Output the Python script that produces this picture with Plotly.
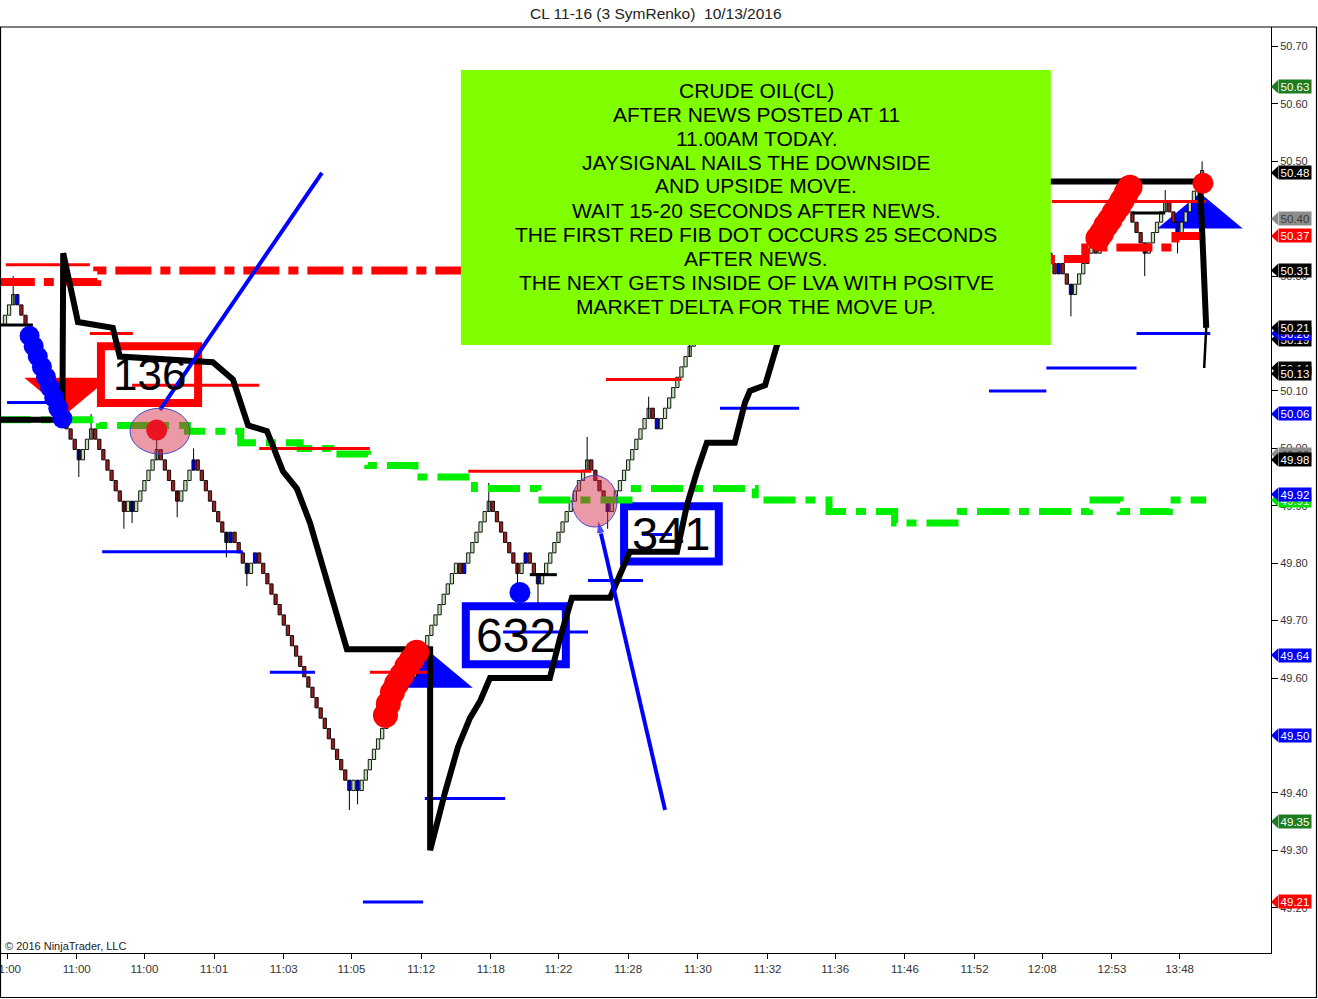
import plotly.graph_objects as go

# ---------------- data ----------------
TITLE = "CL 11-16 (3 SymRenko)\u00a0 10/13/2016"
BRICK = 0.018
START_CLOSE = 50.232
# renko bricks per run (+ up, - down), read left to right
RUNS = [2, -16, 3, -8, 1, -1, 6, -5, 4, -8, 1, -4, 2, -23, 1, -1, 12, -1, 1, 10, -1, 1, 6,
        -7, 2, -3, 12, -5, 10, -2, 8, 14, -3, 15, -16, 9, -14, 2, -2, 8, -4,
        -2, 1, -3, 5, -1, 6, -6, 5, -3, 6]
WICK_HIGH = {2: 50.30, 21: 50.06, 37: 50.03, 46: 50.00, 98: 49.65, 118: 49.94, 142: 50.02,
             157: 50.09, 167: 50.20, 272: 50.47, 283: 50.45, 292: 50.50}
WICK_LOW = {18: 49.95, 29: 49.86, 31: 49.87, 42: 49.88, 54: 49.81, 59: 49.76, 84: 49.37,
            86: 49.38, 125: 49.75, 130: 49.73, 147: 49.86, 260: 50.23, 278: 50.30, 286: 50.34}
BLUE_BARS = [3, 18, 31, 46, 54, 55, 59, 61, 84, 86, 99, 112, 127, 130, 147, 159, 257, 260, 278, 286]

TICK_BARS = [0.5, 17.5, 34, 51, 68, 84.5, 101.5, 118.5, 135, 152, 169, 186, 202.5, 219.5,
             236.5, 253, 270, 286.5]
TICK_LABELS = ["11:00", "11:00", "11:00", "11:01", "11:03", "11:05", "11:12", "11:18", "11:22",
               "11:28", "11:30", "11:32", "11:36", "11:46", "11:52", "12:08", "12:53", "13:48"]
Y_TICKS = [49.20, 49.30, 49.40, 49.50, 49.60, 49.70, 49.80, 49.90, 50.00, 50.10, 50.20,
           50.30, 50.40, 50.50, 50.60, 50.70]

BLACK_X = [-1.5, 14, 14.2, 17.8, 26.3, 28, 50.7, 55.6, 59.3, 63.9, 67.8, 71.2, 74.4, 77.3, 79.8,
           81.7, 83.4, 103.7, 103.7, 107.3, 110.5, 113.4, 115.9, 118.3, 132.9, 135.4, 138.3,
           147.6, 150, 152.4, 163.9, 166.3, 168.8, 171.2, 178, 180.5, 181.7, 185.4, 188.3, 200,
           215, 235, 254, 291.5, 293]
BLACK_Y = [50.05, 50.05, 50.34, 50.22, 50.21, 50.16, 50.15, 50.12, 50.04, 50.03, 49.96, 49.93,
           49.87, 49.80, 49.74, 49.69, 49.65, 49.65, 49.30, 49.40, 49.48, 49.53, 49.56, 49.60,
           49.60, 49.67, 49.74, 49.74, 49.78, 49.82, 49.82, 49.90, 49.96, 50.01, 50.01, 50.08,
           50.10, 50.11, 50.18, 50.30, 50.38, 50.45, 50.465, 50.465, 50.21]
BLACK_TAIL_X = [293, 292.5]
BLACK_TAIL_Y = [50.21, 50.14]

RED_DD_X = [-1.5, 22.5, 255, 263.5, 285.5, 293]
RED_DD_Y = [50.29, 50.31, 50.33, 50.35, 50.37, 50.37]
GREEN_DD_X = [-1.5, 23, 44.5, 57.5, 72, 79.5, 88.5, 100, 114.5, 130, 153.5, 183, 201, 217, 233,
              264.5, 272, 284, 293]
GREEN_DD_Y = [50.05, 50.04, 50.03, 50.01, 50.00, 49.99, 49.97, 49.95, 49.93, 49.91, 49.93, 49.91,
              49.89, 49.87, 49.89, 49.91, 49.89, 49.91, 49.91]

RED_SEG_X0 = [0.2, 20.7, 31, 62, 89, 113, 146.6, 255.3]
RED_SEG_X1 = [20.7, 31.2, 62, 89, 104, 143, 165, 293]
RED_SEG_Y = [50.32, 50.20, 50.11, 50.00, 49.61, 49.96, 50.12, 50.43]
BLUE_SEG_X0 = [0.5, 23.7, 64.6, 87.3, 102.4, 121.5, 142.2, 155.4, 174.4, 240, 254, 276]
BLUE_SEG_X1 = [11, 58, 75.6, 102, 122, 142.2, 155.6, 162.7, 193.7, 254, 276, 294]
BLUE_SEG_Y = [50.08, 49.82, 49.61, 49.21, 49.39, 49.68, 49.77, 49.85, 50.07, 50.10, 50.14, 50.20]
BLACK_SEG_X0 = [-1.5, 128, 275]
BLACK_SEG_X1 = [6.8, 134.6, 283]
BLACK_SEG_Y = [50.215, 49.78, 50.41]

TREND1_X = [37.8, 77.3]
TREND1_Y = [50.067, 50.48]
TREND2_X = [161, 144.6]
TREND2_Y = [49.37, 49.875]

BLUE_DOT_BARS = [6, 7, 8, 9, 10, 11, 12, 13, 14]
RED_DOT_X = [92.8, 93.5, 94.5, 95.5, 96.8, 98, 99.2, 100.4,
             266.6, 267.5, 268.5, 269.5, 270.5, 271.5, 272.5, 273.5, 274.4]
RED_DOT_Y = [49.535, 49.555, 49.575, 49.59, 49.605, 49.62, 49.632, 49.645,
             50.366, 50.375, 50.388, 50.398, 50.41, 50.42, 50.432, 50.445, 50.455]
SINGLE_RED_X = [37, 292.2]
SINGLE_RED_Y = [50.032, 50.462]
SINGLE_BLUE_X = [125.6]
SINGLE_BLUE_Y = [49.749]

SIG_BAR = [15.1, 103.7, 291.5]
SIG_PRICE = [50.061, 49.645, 50.445]
SIG_DIR = [-1, 1, 1]
SIG_COLOR = ["#ff0000", "#0000ff", "#0000ff"]

CIRCLES = [(30.5, 45.1, 49.99, 50.07), (138.3, 149.3, 49.863, 49.953)]

BOX_LABELS = ["136", "632", "341"]
BOX_X0 = [23.4, 112.4, 151]
BOX_X1 = [47.1, 136.8, 174.1]
BOX_Y0 = [50.079, 49.624, 49.803]
BOX_Y1 = [50.178, 49.725, 49.899]
BOX_COLORS = ["#ff0000", "#0000ff", "#0000ff"]
BOX_FONT = [44, 48, 47]

NOTE_BOX = (111.2, 255.1, 50.18, 50.659)
NOTE_LINES = ["CRUDE OIL(CL)", "AFTER NEWS POSTED AT 11", "11.00AM TODAY.",
              "JAYSIGNAL NAILS THE DOWNSIDE", "AND UPSIDE MOVE.",
              "WAIT 15-20 SECONDS AFTER NEWS.", "THE FIRST RED FIB DOT OCCURS 25 SECONDS",
              "AFTER NEWS.", "THE NEXT GETS INSIDE OF LVA WITH POSITVE",
              "MARKET DELTA FOR THE MOVE UP."]

TAG_PRICE = [50.63, 50.48, 50.40, 50.37, 50.31, 50.19, 50.20, 50.21, 50.14, 50.13, 50.06,
             49.99, 49.98, 49.91, 49.92, 49.64, 49.50, 49.35, 49.21]
TAG_BG = ["#1e7b1e", "#000000", "#8c8c8c", "#ff0000", "#000000", "#000000", "#0000ff", "#000000",
          "#000000", "#000000", "#0000ff", "#8c8c8c", "#000000", "#00e000", "#0000ff", "#0000ff",
          "#0000ff", "#1e7b1e", "#ff0000"]
TAG_FG = ["#ffffff", "#ffffff", "#3c3c3c", "#ffffff", "#ffffff", "#ffffff", "#ffffff", "#ffffff",
          "#ffffff", "#ffffff", "#ffffff", "#3c3c3c", "#ffffff", "#ffffff", "#ffffff", "#ffffff",
          "#ffffff", "#ffffff", "#ffffff"]

UP_FILL = "#bfe0b2"
DOWN_FILL = "#9b1c1c"
BLUE_FILL = "#0000ff"

# ---------------- layout geometry ----------------
W, H = 1318, 999
ML, MR, MT, MB = 1, 47, 27, 46
PW, PH = W - ML - MR, H - MT - MB
X_RANGE = [-0.976, 308.8]
Y_RANGE = [49.121, 50.734]
FONT = "Arial, Liberation Sans, sans-serif"


def paper_x(px):
    return (px - ML) / PW


def paper_y(py):
    return (H - MB - py) / PH


# ---------------- build renko bars ----------------
opens, closes = [START_CLOSE - BRICK], [START_CLOSE]
for r in RUNS:
    step = BRICK if r > 0 else -BRICK
    for _ in range(abs(r)):
        o = closes[-1]
        opens.append(o)
        closes.append(round(o + step, 4))
n = len(closes)
body_lo = [min(o, c) for o, c in zip(opens, closes)]
body_hi = [max(o, c) for o, c in zip(opens, closes)]
highs = list(body_hi)
lows = list(body_lo)
for b, v in WICK_HIGH.items():
    if b < n:
        highs[b] = max(highs[b], v)
for b, v in WICK_LOW.items():
    if b < n:
        lows[b] = min(lows[b], v)
xs = list(range(n))
blue_set = set(BLUE_BARS)
colors = [BLUE_FILL if i in blue_set else (UP_FILL if closes[i] > opens[i] else DOWN_FILL)
          for i in xs]

fig = go.Figure()

# wicks
wx, wy = [], []
for i in xs:
    if highs[i] > body_hi[i] + 1e-9 or lows[i] < body_lo[i] - 1e-9:
        wx += [i, i, None]
        wy += [lows[i], highs[i], None]
fig.add_trace(go.Scatter(x=wx, y=wy, mode="lines", line=dict(color="#000000", width=1),
                         hoverinfo="skip", showlegend=False))
# bodies
fig.add_trace(go.Bar(x=xs, y=[h - l for h, l in zip(body_hi, body_lo)], base=body_lo, width=0.8,
                     marker=dict(color=colors, line=dict(color="#000000", width=0.9)),
                     hoverinfo="skip", showlegend=False))

fig.add_trace(go.Scatter(x=GREEN_DD_X, y=GREEN_DD_Y, mode="lines", line_shape="hv",
                         line=dict(color="#00ee00", width=7, dash="32px,10px,10px,10px"),
                         hoverinfo="skip", showlegend=False))
fig.add_trace(go.Scatter(x=RED_DD_X, y=RED_DD_Y, mode="lines", line_shape="hv",
                         line=dict(color="#ff0000", width=8, dash="36px,9px,10px,9px"),
                         hoverinfo="skip", showlegend=False))


def seg_arrays(x0s, x1s, ys):
    sx, sy = [], []
    for a, b, y in zip(x0s, x1s, ys):
        sx += [a, b, None]
        sy += [y, y, None]
    return sx, sy


for x0s, x1s, ys, col in [(RED_SEG_X0, RED_SEG_X1, RED_SEG_Y, "#ff0000"),
                          (BLUE_SEG_X0, BLUE_SEG_X1, BLUE_SEG_Y, "#0000ff"),
                          (BLACK_SEG_X0, BLACK_SEG_X1, BLACK_SEG_Y, "#000000")]:
    sx, sy = seg_arrays(x0s, x1s, ys)
    fig.add_trace(go.Scatter(x=sx, y=sy, mode="lines", line=dict(color=col, width=3),
                             hoverinfo="skip", showlegend=False))

fig.add_trace(go.Scatter(x=BLACK_X, y=BLACK_Y, mode="lines",
                         line=dict(color="#000000", width=6), hoverinfo="skip", showlegend=False))
fig.add_trace(go.Scatter(x=BLACK_TAIL_X, y=BLACK_TAIL_Y, mode="lines",
                         line=dict(color="#000000", width=2.5), hoverinfo="skip", showlegend=False))

fig.add_trace(go.Scatter(x=TREND1_X, y=TREND1_Y, mode="lines",
                         line=dict(color="#0000ff", width=4), hoverinfo="skip", showlegend=False))
fig.add_trace(go.Scatter(x=TREND2_X, y=TREND2_Y, mode="lines+markers",
                         line=dict(color="#0000ff", width=4),
                         marker=dict(symbol="arrow", size=[0, 14], angleref="previous",
                                     color="#0000ff"),
                         hoverinfo="skip", showlegend=False))

fig.add_trace(go.Scatter(x=BLUE_DOT_BARS, y=[closes[b] for b in BLUE_DOT_BARS], mode="markers",
                         marker=dict(color="#0000ff", size=20, line=dict(width=0)),
                         hoverinfo="skip", showlegend=False))
fig.add_trace(go.Scatter(x=SINGLE_BLUE_X, y=SINGLE_BLUE_Y, mode="markers",
                         marker=dict(color="#0000ff", size=21, line=dict(width=0)),
                         hoverinfo="skip", showlegend=False))
fig.add_trace(go.Scatter(x=RED_DOT_X, y=RED_DOT_Y, mode="markers",
                         marker=dict(color="#ff0000", size=25, line=dict(width=0)),
                         hoverinfo="skip", showlegend=False))
fig.add_trace(go.Scatter(x=SINGLE_RED_X, y=SINGLE_RED_Y, mode="markers",
                         marker=dict(color="#ff0000", size=21, line=dict(width=0)),
                         hoverinfo="skip", showlegend=False))

shapes = []
TRI_HW = 10.4
TRI_H = 0.062
for b, p, d, c in zip(SIG_BAR, SIG_PRICE, SIG_DIR, SIG_COLOR):
    base = p - d * TRI_H
    shapes.append(dict(type="path", xref="x", yref="y", layer="below",
                       path=f"M {b},{p} L {b - TRI_HW},{base} L {b + TRI_HW},{base} Z",
                       fillcolor=c, line=dict(width=0)))
for x0, x1, y0, y1, c in zip(BOX_X0, BOX_X1, BOX_Y0, BOX_Y1, BOX_COLORS):
    shapes.append(dict(type="rect", xref="x", yref="y", layer="below", x0=x0, x1=x1, y0=y0, y1=y1,
                       fillcolor="#ffffff", line=dict(color=c, width=8)))
for x0, x1, y0, y1 in CIRCLES:
    shapes.append(dict(type="circle", xref="x", yref="y", layer="above", x0=x0, x1=x1, y0=y0, y1=y1,
                       fillcolor="rgba(214,40,72,0.48)", line=dict(color="#4646c8", width=1)))
nx0, nx1, ny0, ny1 = NOTE_BOX
shapes.append(dict(type="rect", xref="x", yref="y", layer="above", x0=nx0, x1=nx1, y0=ny0, y1=ny1,
                   fillcolor="#80ff00", line=dict(width=0)))
# tag pointers
for p, c in zip(TAG_PRICE, TAG_BG):
    shapes.append(dict(type="path", xref="paper", yref="y", layer="above",
                       path=f"M 1.0,{p} L {paper_x(1278)},{p + 0.0115} L {paper_x(1278)},{p - 0.0115} Z",
                       fillcolor=c, line=dict(width=0)))
# frame
for (x0, y0, x1, y1) in [(0, 27, 1317, 27), (0.5, 27, 0.5, 998), (1316.5, 27, 1316.5, 998),
                         (0, 997.5, 1317, 997.5)]:
    shapes.append(dict(type="line", xref="paper", yref="paper", x0=paper_x(x0), x1=paper_x(x1),
                       y0=paper_y(y0), y1=paper_y(y1), line=dict(color="#000000", width=1.2)))

annotations = []
for lab, x0, x1, y0, y1, fs in zip(BOX_LABELS, BOX_X0, BOX_X1, BOX_Y0, BOX_Y1, BOX_FONT):
    annotations.append(dict(x=(x0 + x1) / 2, y=(y0 + y1) / 2, xref="x", yref="y", text=lab,
                            showarrow=False, font=dict(family=FONT, size=fs, color="#000000"),
                            xanchor="center", yanchor="middle"))
for k, line in enumerate(NOTE_LINES):
    annotations.append(dict(x=paper_x(756), y=paper_y(90 + 24 * k), xref="paper", yref="paper",
                            text=line, showarrow=False, xanchor="center", yanchor="middle",
                            font=dict(family=FONT, size=21, color="#000000")))
for p, bg, fg in zip(TAG_PRICE, TAG_BG, TAG_FG):
    annotations.append(dict(x=paper_x(1278), y=p, xref="paper", yref="y", text=f"{p:.2f}",
                            showarrow=False, xanchor="left", yanchor="middle", bgcolor=bg,
                            borderpad=0, width=32, height=13, align="center",
                            font=dict(family=FONT, size=11.5, color=fg)))
annotations.append(dict(x=paper_x(656), y=paper_y(13), xref="paper", yref="paper", text=TITLE,
                        showarrow=False, xanchor="center", yanchor="middle",
                        font=dict(family=FONT, size=15.5, color="#222222")))
annotations.append(dict(x=paper_x(3), y=paper_y(946), xref="paper", yref="paper",
                        text="\u00a9 2016 NinjaTrader, LLC", showarrow=False, xanchor="left",
                        yanchor="middle", font=dict(family=FONT, size=11, color="#222222")))

fig.update_layout(
    width=W, height=H, margin=dict(l=ML, r=MR, t=MT, b=MB, pad=0),
    paper_bgcolor="#ffffff", plot_bgcolor="#ffffff", showlegend=False,
    shapes=shapes, annotations=annotations, hovermode=False, barmode="overlay",
    xaxis=dict(range=X_RANGE, showgrid=False, zeroline=False, showline=True, linecolor="#000000",
               linewidth=1, ticks="outside", ticklen=5, tickcolor="#000000",
               tickvals=TICK_BARS, ticktext=TICK_LABELS, automargin=False,
               ticklabeloverflow="allow",
               tickfont=dict(family=FONT, size=11.5, color="#333333"), fixedrange=True),
    yaxis=dict(range=Y_RANGE, side="right", showgrid=False, zeroline=False, showline=True,
               linecolor="#000000", linewidth=1, ticks="outside", ticklen=6, tickcolor="#000000",
               tickvals=Y_TICKS, ticktext=[f"{v:.2f}" for v in Y_TICKS], automargin=False,
               tickfont=dict(family=FONT, size=11, color="#333333"), fixedrange=True),
)

fig.write_html("out.html", config={"displayModeBar": False},
               post_script="document.body.style.margin='0';document.body.style.overflow='hidden';")
